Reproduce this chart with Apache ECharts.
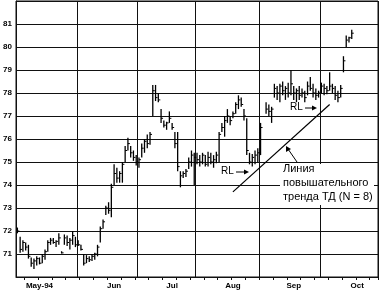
<!DOCTYPE html>
<html><head><meta charset="utf-8">
<script src="https://cdn.jsdelivr.net/npm/echarts@6/dist/echarts.min.js"></script>
<style>html,body{margin:0;padding:0;background:#fff}#c{width:381px;height:295px}</style>
</head><body><div id="c"></div>
<script>
// Trading days (weekdays) from 2 May 1994 to 31 Oct 1994
const categories = (function(){
  const out = []; const d = new Date(Date.UTC(1994,4,2));
  const end = new Date(Date.UTC(1994,9,31));
  while (d <= end) { const w = d.getUTCDay(); if (w !== 0 && w !== 6) out.push(d.toISOString().slice(0,10)); d.setUTCDate(d.getUTCDate()+1); }
  return out;
})();
const monthLabels = {"1994-05-12":"May-94","1994-06-20":"Jun","1994-07-19":"Jul","1994-08-18":"Aug","1994-09-19":"Sep","1994-10-20":"Oct"};
const yTicks = [71,72,73,74,75,76,77,78,79,80,81];

const highs = [72.15,71.75,71.6,71.5,71.4,70.85,70.8,70.9,70.85,71.0,71.2,71.6,71.7,71.7,71.6,71.9,71.12,71.85,71.8,71.7,72.0,71.75,
71.6,71.4,71.0,70.95,70.9,71.0,71.05,71.4,72.2,72.5,73.1,73.25,74.05,74.9,74.75,74.6,75.0,75.7,76.05,75.7,75.5,75.3,
75.2,75.8,76.0,76.2,76.3,78.35,78.35,78.0,77.3,76.8,76.75,77.2,76.7,76.3,76.3,74.6,74.6,74.7,75.2,75.5,75.4,
75.4,75.3,75.4,75.3,75.45,75.4,75.3,75.45,76.3,76.7,77.0,77.3,77.0,77.2,77.6,77.9,77.8,77.3,76.9,75.4,75.35,75.5,75.6,
76.7,null,77.6,77.5,77.4,78.4,78.3,78.4,78.5,78.3,78.45,79.0,78.3,78.2,78.3,78.2,78.1,78.5,78.7,78.4,78.2,78.1,
78.45,78.4,78.3,78.9,78.4,78.3,78.1,78.35,79.6,80.5,80.45,80.75];
const lows = [71.9,71.05,71.1,71.15,70.8,70.45,70.35,70.5,70.55,70.6,70.75,71.1,71.4,71.45,71.3,71.4,71.02,71.4,71.35,71.2,71.4,71.3,
71.35,71.15,70.5,70.6,70.65,70.7,70.75,70.9,71.5,72.1,72.7,72.75,72.6,74.0,74.1,74.1,74.1,75.0,75.5,75.2,75.05,74.85,
74.75,75.2,75.4,75.6,75.75,77.0,77.65,77.6,76.7,76.5,76.4,76.7,76.4,75.6,74.6,73.9,74.3,74.35,74.7,74.8,74.0,
74.9,74.8,74.9,74.8,74.8,74.9,74.75,74.95,75.0,76.3,76.1,76.7,76.6,76.9,77.1,77.3,77.4,76.8,75.3,74.9,74.8,74.9,75.0,
75.3,null,77.1,77.0,76.7,77.8,77.7,77.6,77.9,77.7,77.8,77.9,77.7,77.6,77.7,77.8,77.6,77.9,78.1,77.8,77.7,77.8,
78.0,77.9,77.95,78.1,78.0,77.7,77.6,77.8,78.9,80.0,80.2,80.35];
const closes = [72.0,71.2,71.5,71.3,70.9,70.6,70.7,70.8,70.6,70.9,71.1,71.5,71.6,71.5,71.55,71.7,71.05,71.7,71.5,71.6,71.8,71.4,
71.4,71.2,70.6,70.8,70.75,70.9,71.0,71.3,72.1,72.4,73.0,72.9,73.9,74.5,74.3,74.5,74.9,75.5,75.8,75.4,75.2,75.0,
75.1,75.6,75.9,75.8,76.2,78.1,77.8,77.7,76.9,76.6,76.7,76.9,76.5,75.8,74.8,74.4,74.5,74.6,75.0,75.3,75.2,
75.1,75.0,75.3,74.9,75.2,75.0,75.1,75.3,76.2,76.5,76.8,77.0,76.8,77.1,77.5,77.7,77.5,77.0,75.5,75.0,75.2,75.3,75.4,
76.5,null,77.3,77.2,77.3,78.2,78.0,78.3,78.1,78.2,78.0,78.4,78.0,78.1,77.9,78.0,77.8,78.3,78.2,78.0,77.9,78.0,
78.3,78.2,78.1,78.3,78.2,77.9,77.8,78.2,79.4,80.3,80.4,80.6];
const trendLine = [[78,73.70],[113,77.50]];

const bars = [];
highs.forEach((h,i)=>{ if (h != null) bars.push([i, h, lows[i], closes[i]]); });

const chart = echarts.init(document.getElementById('c'), null, {renderer:'canvas'});
const FONT = '"Liberation Sans", Arial, sans-serif';
function firstOfMonth(idx){ if (idx === 0) return false; if (idx >= categories.length) return false; return categories[idx].slice(5,7) !== categories[idx-1].slice(5,7); }
chart.setOption({
  animation:false,
  backgroundColor:'#fff',
  grid:{left:16,right:3,top:1,bottom:18,show:true,borderColor:'#111',borderWidth:1,backgroundColor:'transparent'},
  xAxis:{type:'category',data:categories,boundaryGap:true,
    axisLine:{show:true,lineStyle:{color:'#111',width:1}},
    axisTick:{show:true,length:3,interval:(i)=> i < categories.length && new Date(categories[i]+'T00:00:00Z').getUTCDay()===4,lineStyle:{color:'#111'}},
    axisLabel:{interval:(i,v)=> v in monthLabels, formatter:(v)=> monthLabels[v]||'', color:'#000',fontFamily:FONT,fontWeight:'bold',fontSize:8,margin:5},
    splitLine:{show:true,interval:(i)=> firstOfMonth(i),lineStyle:{color:'#111',width:1}}
  },
  yAxis:{type:'value',min:70,max:82,interval:1,
    axisLine:{show:true,lineStyle:{color:'#111'}},axisTick:{show:false},
    axisLabel:{formatter:(v)=> yTicks.indexOf(v)>=0 ? String(v) : '',color:'#000',fontFamily:FONT,fontWeight:'bold',fontSize:8,margin:4},
    splitLine:{show:true,lineStyle:{color:'#111',width:1}}
  },
  series:[
    {type:'custom',data:bars,encode:{x:0,y:[1,2,3]},clip:true,
     renderItem:function(params,api){
       const i=api.value(0), h=api.value(1), l=api.value(2), c=api.value(3);
       const pH=api.coord([i,h]), pL=api.coord([i,l]), pC=api.coord([i,c]);
       return {type:'group',children:[
         {type:'line',shape:{x1:pH[0],y1:pH[1],x2:pL[0],y2:pL[1]},style:{stroke:'#000',lineWidth:1.3}},
         {type:'line',shape:{x1:pC[0],y1:pC[1],x2:pC[0]+2,y2:pC[1]},style:{stroke:'#000',lineWidth:1}}
       ]};
     }},
    {type:'line',data:trendLine,symbol:'none',lineStyle:{color:'#000',width:1.2},z:3}
  ],
  graphic:[
    {type:'text',left:221,top:166,style:{text:'RL',font:'10px '+FONT,fill:'#000'}},
    {type:'line',shape:{x1:236,y1:172,x2:246,y2:172},style:{stroke:'#000',lineWidth:1}},
    {type:'polygon',shape:{points:[[249,172],[244,169.5],[244,174.5]]},style:{fill:'#000'}},
    {type:'text',left:290,top:102,style:{text:'RL',font:'10px '+FONT,fill:'#000'}},
    {type:'line',shape:{x1:305,y1:108,x2:314,y2:108},style:{stroke:'#000',lineWidth:1}},
    {type:'polygon',shape:{points:[[317,108],[312,105.5],[312,110.5]]},style:{fill:'#000'}},
    {type:'rect',shape:{x:280,y:164,width:94,height:41},style:{fill:'#fff'},z:10},
    {type:'text',left:283,top:163,z:11,style:{text:'Линия',font:'11px '+FONT,fill:'#000'}},
    {type:'text',left:283,top:177,z:11,style:{text:'повышательного',font:'11px '+FONT,fill:'#000'}},
    {type:'text',left:283,top:191,z:11,style:{text:'тренда ТД (N = 8)',font:'11px '+FONT,fill:'#000'}},
    {type:'line',shape:{x1:297,y1:162,x2:288,y2:149},style:{stroke:'#000',lineWidth:1},z:11},
    {type:'polygon',shape:{points:[[286,146],[286,152],[291,149]]},style:{fill:'#000'},z:11}
  ]
});
</script></body></html>
